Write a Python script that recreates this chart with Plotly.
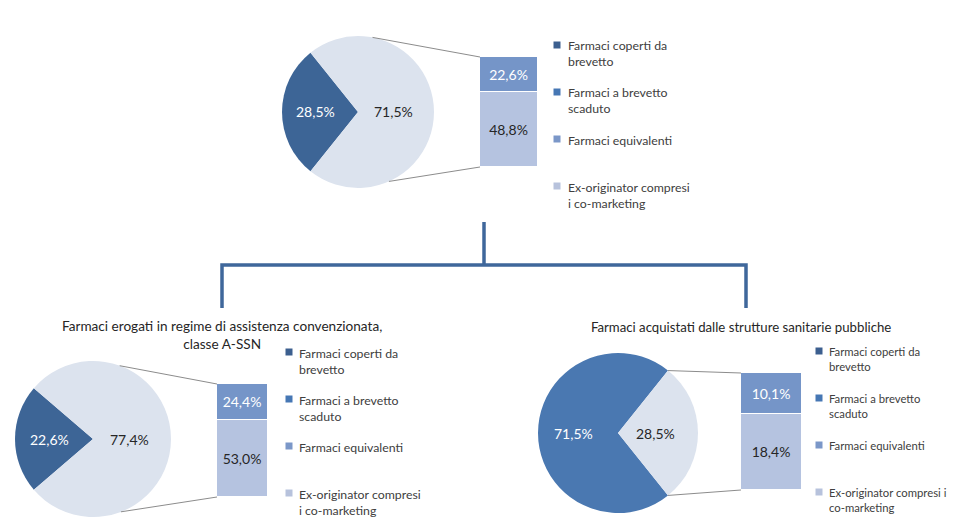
import math
import plotly.graph_objects as go

# ---------------- data ----------------
chart_titles = ["", "Farmaci erogati in regime di assistenza convenzionata,<br>classe A-SSN",
                "Farmaci acquistati dalle strutture sanitarie pubbliche"]
pie_coperti = [28.5, 22.6, 71.5]          # Farmaci coperti da brevetto
pie_scaduto = [71.5, 77.4, 28.5]          # Farmaci a brevetto scaduto
bar_equivalenti = [22.6, 24.4, 10.1]      # Farmaci equivalenti
bar_exoriginator = [48.8, 53.0, 18.4]     # Ex-originator compresi i co-marketing
legend_labels = [
    ["Farmaci coperti da<br>brevetto", "Farmaci a brevetto<br>scaduto", "Farmaci equivalenti",
     "Ex-originator compresi<br>i co-marketing"],
    ["Farmaci coperti da<br>brevetto", "Farmaci a brevetto<br>scaduto", "Farmaci equivalenti",
     "Ex-originator compresi<br>i co-marketing"],
    ["Farmaci coperti da<br>brevetto", "Farmaci a brevetto<br>scaduto", "Farmaci equivalenti",
     "Ex-originator compresi i<br>co-marketing"],
]

# ---------------- layout / style ----------------
WIN_W, WIN_H = 956, 517
OFF = 8                      # default page body margin
W, H = WIN_W - OFF, WIN_H - OFF
FONT = "Lato, 'Open Sans', sans-serif"
pie_geom = [(358, 112, 76), (93, 439, 78), (618, 433, 80)]     # cx, cy, r (window px)
bar_geom = [(480, 538, 57, 167), (217, 268, 384, 497), (741, 802, 373, 490)]  # x0,x1,ytop,ybottom
conn_angles = [(79, -66), (70, -69), (None, None)]   # None -> slice boundary
legend_pos = [(557, 566, 45), (289, 297, 352), (819, 827, 351)]
legend_font = [12.3, 12.3, 11.3]
legend_step = 47
title_pos = [None, (222, 335), (741, 327)]
title_font = [13.3, 13.6, 13.2]
dark_colors = ["#3d6596", "#3d6596", "#4a78b1"]
light_pie = "#dce3ee"
col_equiv = "#7595c8"
col_exor = "#b5c3e0"
legend_colors = ["#3c5f8f", "#4677b4", "#7b97c8", "#b7c2dc"]
tree_color = "#3f679b"


def px(x):
    return (x - OFF) / W


def py(y):
    return 1 - (y - OFF) / H


def fmt(v):
    return f"{v:.1f}".replace(".", ",")


fig = go.Figure()
shapes = []
annotations = []

for i in range(3):
    cx, cy, r = pie_geom[i]
    dark = pie_coperti[i]
    light = pie_scaduto[i]
    span = 360 * dark / (dark + light)
    fig.add_trace(go.Pie(
        values=[dark, light], labels=["Farmaci coperti da brevetto", "Farmaci a brevetto scaduto"],
        sort=False, direction="clockwise", rotation=270 - span / 2,
        marker=dict(colors=[dark_colors[i], light_pie], line=dict(color="white", width=0)),
        textinfo="none", hoverinfo="label+percent", showlegend=False,
        domain=dict(x=[max(0, px(cx - r)), px(cx + r)], y=[max(0, py(cy + r)), py(cy - r)]),
    ))
    # pie labels
    for val, ang, frac, col in [(dark, 180, 0.56, "white"), (light, 0, 0.47, "#262626")]:
        annotations.append(dict(
            x=px(cx + frac * r * math.cos(math.radians(ang))),
            y=py(cy - frac * r * math.sin(math.radians(ang))),
            xref="paper", yref="paper", text=fmt(val) + "%", showarrow=False,
            font=dict(family=FONT, size=14, color=col), xanchor="center", yanchor="middle"))

    # stacked bar
    x0, x1, yt, yb = bar_geom[i]
    total = bar_equivalenti[i] + bar_exoriginator[i]
    xa = "x" if i == 0 else f"x{i+1}"
    ya = "y" if i == 0 else f"y{i+1}"
    for val, col, tcol, name in [(bar_exoriginator[i], col_exor, "#262626", "Ex-originator"),
                                 (bar_equivalenti[i], col_equiv, "white", "Farmaci equivalenti")]:
        fig.add_trace(go.Bar(
            x=[0], y=[val], width=[1], xaxis=xa, yaxis=ya, name=name, showlegend=False,
            marker=dict(color=col, line=dict(color="white", width=1)),
            text=[fmt(val)], texttemplate="%{text}%", textposition="inside",
            insidetextanchor="middle", constraintext="none",
            textfont=dict(family=FONT, size=14, color=tcol)))
    axkey = "xaxis" if i == 0 else f"xaxis{i+1}"
    aykey = "yaxis" if i == 0 else f"yaxis{i+1}"
    fig.update_layout({
        axkey: dict(domain=[px(x0), px(x1)], range=[-0.5, 0.5], visible=False, anchor=ya,
                    fixedrange=True),
        aykey: dict(domain=[py(yb), py(yt)], range=[0, total], visible=False, anchor=xa,
                    fixedrange=True),
    })

    # connector lines pie -> bar
    a_top, a_bot = conn_angles[i]
    if a_top is None:
        a_top = 180 - span / 2
        a_bot = -(180 - span / 2)
    for ang, ybar in [(a_top, yt), (a_bot, yb)]:
        sx = cx + r * math.cos(math.radians(ang))
        sy = cy - r * math.sin(math.radians(ang))
        shapes.append(dict(type="line", xref="paper", yref="paper",
                           x0=px(sx), y0=py(sy), x1=px(x0), y1=py(ybar),
                           line=dict(color="#8c8c8c", width=1)))

    # legend
    lx, tx, ly = legend_pos[i]
    for k, lab in enumerate(legend_labels[i]):
        yy = ly + k * legend_step
        shapes.append(dict(type="rect", xref="paper", yref="paper",
                           x0=px(lx - 3.5), x1=px(lx + 3.5), y0=py(yy + 3.5), y1=py(yy - 3.5),
                           fillcolor=legend_colors[k], line=dict(width=0)))
        annotations.append(dict(x=px(tx), y=py(yy - 8.5), xref="paper", yref="paper", text=lab,
                                showarrow=False, xanchor="left", yanchor="top", align="left",
                                font=dict(family=FONT, size=legend_font[i], color="#404040")))

    # title
    if title_pos[i] is not None:
        tx_, ty_ = title_pos[i]
        annotations.append(dict(x=px(tx_), y=py(ty_), xref="paper", yref="paper",
                                text=chart_titles[i], showarrow=False, xanchor="center",
                                yanchor="middle", align="center",
                                font=dict(family=FONT, size=title_font[i], color="#262626")))

# tree connector
shapes.append(dict(type="path", xref="paper", yref="paper",
                   path=f"M {px(484)} {py(222)} L {px(484)} {py(265)}",
                   line=dict(color=tree_color, width=3.5)))
shapes.append(dict(type="path", xref="paper", yref="paper",
                   path=(f"M {px(222)} {py(308)} L {px(222)} {py(265)} L {px(746)} {py(265)} "
                         f"L {px(746)} {py(308)}"),
                   line=dict(color=tree_color, width=3.5)))

fig.update_layout(
    width=W, height=H, margin=dict(l=0, r=0, t=0, b=0),
    paper_bgcolor="white", plot_bgcolor="rgba(0,0,0,0)",
    barmode="stack", bargap=0, showlegend=False,
    shapes=shapes, annotations=annotations,
    font=dict(family=FONT),
)

fig.write_html("out.html")
